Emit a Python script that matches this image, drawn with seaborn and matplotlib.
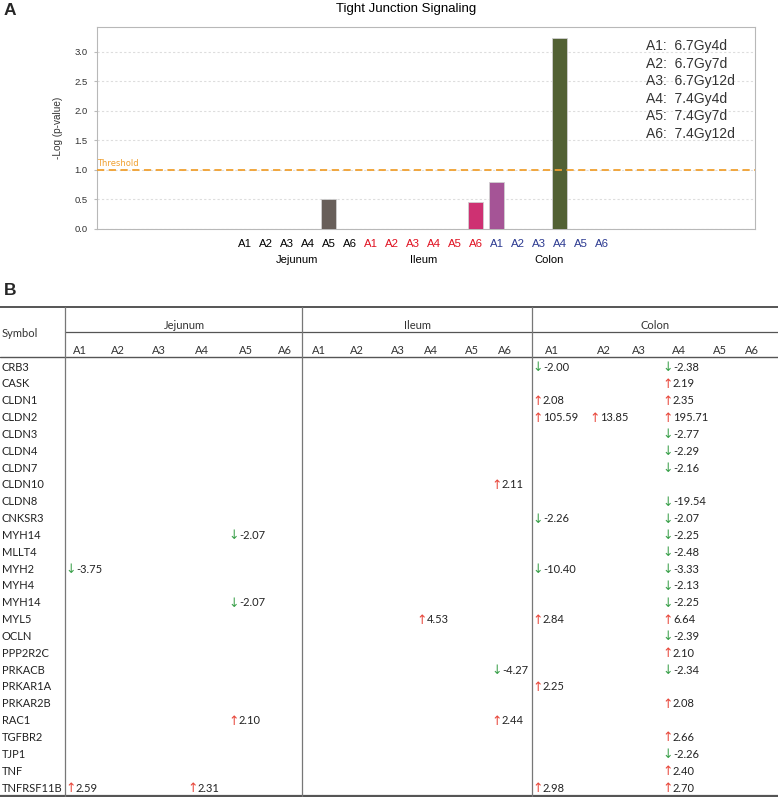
import pandas as pd
import matplotlib.pyplot as plt
import seaborn as sns

# Panel A data: -log(p-value) per tissue, arms A1..A6
tissues = ["Jejunum", "Ileum", "Colon"]
arms = ["A1", "A2", "A3", "A4", "A5", "A6"]
arm_desc = ["6.7Gy4d", "6.7Gy7d", "6.7Gy12d", "7.4Gy4d", "7.4Gy7d", "7.4Gy12d"]
jejunum_logp = [0, 0, 0, 0, 0.51, 0]
ileum_logp = [0, 0, 0, 0, 0, 0.46]
colon_logp = [0.80, 0, 0, 3.24, 0, 0]
threshold = 1.0
yticks = [0.0, 0.5, 1.0, 1.5, 2.0, 2.5, 3.0]

# Panel B data: fold changes (row index, tissue, arm, value)
genes = ["CRB3", "CASK", "CLDN1", "CLDN2", "CLDN3", "CLDN4", "CLDN7", "CLDN10",
         "CLDN8", "CNKSR3", "MYH14", "MLLT4", "MYH2", "MYH4", "MYH14", "MYL5",
         "OCLN", "PPP2R2C", "PRKACB", "PRKAR1A", "PRKAR2B", "RAC1", "TGFBR2",
         "TJP1", "TNF", "TNFRSF11B"]
changes = [
    (0, "Colon", "A1", -2.00), (0, "Colon", "A4", -2.38),
    (1, "Colon", "A4", 2.19),
    (2, "Colon", "A1", 2.08), (2, "Colon", "A4", 2.35),
    (3, "Colon", "A1", 105.59), (3, "Colon", "A2", 13.85), (3, "Colon", "A4", 195.71),
    (4, "Colon", "A4", -2.77),
    (5, "Colon", "A4", -2.29),
    (6, "Colon", "A4", -2.16),
    (7, "Ileum", "A6", 2.11),
    (8, "Colon", "A4", -19.54),
    (9, "Colon", "A1", -2.26), (9, "Colon", "A4", -2.07),
    (10, "Jejunum", "A5", -2.07), (10, "Colon", "A4", -2.25),
    (11, "Colon", "A4", -2.48),
    (12, "Jejunum", "A1", -3.75), (12, "Colon", "A1", -10.40), (12, "Colon", "A4", -3.33),
    (13, "Colon", "A4", -2.13),
    (14, "Jejunum", "A5", -2.07), (14, "Colon", "A4", -2.25),
    (15, "Ileum", "A4", 4.53), (15, "Colon", "A1", 2.84), (15, "Colon", "A4", 6.64),
    (16, "Colon", "A4", -2.39),
    (17, "Colon", "A4", 2.10),
    (18, "Ileum", "A6", -4.27), (18, "Colon", "A4", -2.34),
    (19, "Colon", "A1", 2.25),
    (20, "Colon", "A4", 2.08),
    (21, "Jejunum", "A5", 2.10), (21, "Ileum", "A6", 2.44),
    (22, "Colon", "A4", 2.66),
    (23, "Colon", "A4", -2.26),
    (24, "Colon", "A4", 2.40),
    (25, "Jejunum", "A1", 2.59), (25, "Jejunum", "A4", 2.31),
    (25, "Colon", "A1", 2.98), (25, "Colon", "A4", 2.70),
]

# styles
bar_colors = {"Jejunum A5": "#6b5e57", "Ileum A6": "#e8176e",
              "Colon A1": "#b2479e", "Colon A4": "#55692c"}
tick_colors = {"Jejunum": "black", "Ileum": "#e01020", "Colon": "#2b3990"}

sns.set_style("white")
plt.rcParams["font.family"] = ["Liberation Sans", "DejaVu Sans"]

W, H = 778, 797
fig = plt.figure(figsize=(W / 100, H / 100), dpi=100)

# ---------------- Panel A
rows = []
for t, vals in zip(tissues, [jejunum_logp, ileum_logp, colon_logp]):
    for a, v in zip(arms, vals):
        rows.append({"key": f"{t} {a}", "tissue": t, "arm": a, "value": v})
df = pd.DataFrame(rows)
palette = {k: bar_colors.get(k, "#888888") for k in df["key"]}

ax = fig.add_axes([97 / W, 1 - 229 / H, (755 - 97) / W, (229 - 27) / H])
sns.barplot(data=df, x="key", y="value", hue="key", palette=palette,
            legend=False, width=0.72, ax=ax, edgecolor="#d0d0d0", linewidth=0.6,
            zorder=3)
ax.set_xlim(-7.05, 24.3)
ax.set_ylim(0, 3.42)
ax.set_yticks(yticks)
ax.set_yticklabels([f"{v:.1f}" for v in yticks])
ax.yaxis.grid(True, color="#dddddd", linestyle=(0, (2, 2)), linewidth=0.8, zorder=0)
ax.xaxis.grid(False)
for s in ax.spines.values():
    s.set_color("#b8b8b8")
    s.set_linewidth(0.8)
ax.tick_params(axis="y", labelsize=6.8, labelcolor="#333333", length=2,
               color="#bbbbbb", pad=5, left=True)
ax.tick_params(axis="x", length=0, pad=7, labelsize=8.2)
ax.set_xticks(range(len(df)))
ax.set_xticklabels(df["arm"])
for lab, t in zip(ax.get_xticklabels(), df["tissue"]):
    lab.set_color(tick_colors[t])
ax.set_xlabel("")
ax.set_ylabel("-Log (p-value)", fontsize=7.2, color="#333333")
ax.yaxis.set_label_coords((63 - 97) / 658, 0.5)

ax.axhline(threshold, color="#f0a030", linestyle=(0, (4, 2.5)), linewidth=1.3, zorder=4)
ax.text(0.0, threshold + 0.03, "Threshold", transform=ax.get_yaxis_transform(),
        color="#f0a030", fontsize=6, ha="left", va="bottom",
        family=["DejaVu Sans"])

for i, t in enumerate(tissues):
    ax.text(i * 6 + 2.5, -0.155, t, transform=ax.get_xaxis_transform(),
            ha="center", va="center", fontsize=8, color="black")

legend_txt = "\n".join(f"{a}:  {d}" for a, d in zip(arms, arm_desc))
ax.text((646 - 97) / 658, (229 - 39) / 202, legend_txt, transform=ax.transAxes,
        ha="left", va="top", fontsize=10, color="#333333", linespacing=1.32)

fig.text(406 / W, 1 - 9 / H, "Tight Junction Signaling", ha="center",
         va="center", fontsize=9.5, color="black")

# ---------------- Panel B (table drawn in pixel coordinates)
tab = fig.add_axes([0, 0, 1, 1])
tab.set_xlim(0, W)
tab.set_ylim(H, 0)
tab.axis("off")
tab.patch.set_alpha(0)

tab.text(4, 10, "A", fontsize=12.5, fontweight="bold", va="center", ha="left")
tab.text(4, 290, "B", fontsize=12.5, fontweight="bold", va="center", ha="left")

line_c = "#555555"
tab.plot([0, W], [307, 307], color=line_c, lw=1.4)
tab.plot([65, W], [332, 332], color=line_c, lw=0.9)
tab.plot([0, W], [357, 357], color=line_c, lw=1.0)
tab.plot([0, W], [796, 796], color=line_c, lw=1.6)
for vx in [65, 302, 532]:
    tab.plot([vx, vx], [307, 797], color="#777777", lw=0.9)

tfont = ["Lato", "DejaVu Sans"]
fs = 8
head_x = {"Jejunum": [73, 111, 152, 195, 239, 278],
          "Ileum": [312, 350, 391, 424, 465, 498],
          "Colon": [545, 597, 632, 672, 713, 745]}
cell_x = {"Jejunum": [68, 105, 146, 190, 231, 272],
          "Ileum": [306, 344, 386, 419, 459, 494],
          "Colon": [535, 592, 627, 665, 707, 740]}
group_cx = {"Jejunum": 184, "Ileum": 418, "Colon": 655}

tab.text(2, 333, "Symbol", fontsize=fs, family=tfont, color="#333333",
         va="center", ha="left")
for t in tissues:
    tab.text(group_cx[t], 325, t, fontsize=fs, family=tfont, color="#333333",
             ha="center", va="center")
    for a, hx in zip(arms, head_x[t]):
        tab.text(hx, 350, a, fontsize=fs, family=tfont, color="#333333",
                 ha="left", va="center")

row0, row_h = 367, 16.84
for i, g in enumerate(genes):
    tab.text(2, row0 + i * row_h, g, fontsize=fs, family=tfont, color="#222222",
             ha="left", va="center")

for r, t, a, v in changes:
    x = cell_x[t][arms.index(a)]
    y = row0 + r * row_h
    up = v > 0
    tab.text(x + 2.5, y + 0.5, "\u2191" if up else "\u2193", fontsize=9,
             family=["DejaVu Sans"], color="#e8463a" if up else "#3aa04a",
             ha="center", va="center")
    tab.text(x + 8, y, f"{v:.2f}", fontsize=fs, family=tfont, color="#222222",
             ha="left", va="center")

fig.savefig("out.png", dpi=100)
